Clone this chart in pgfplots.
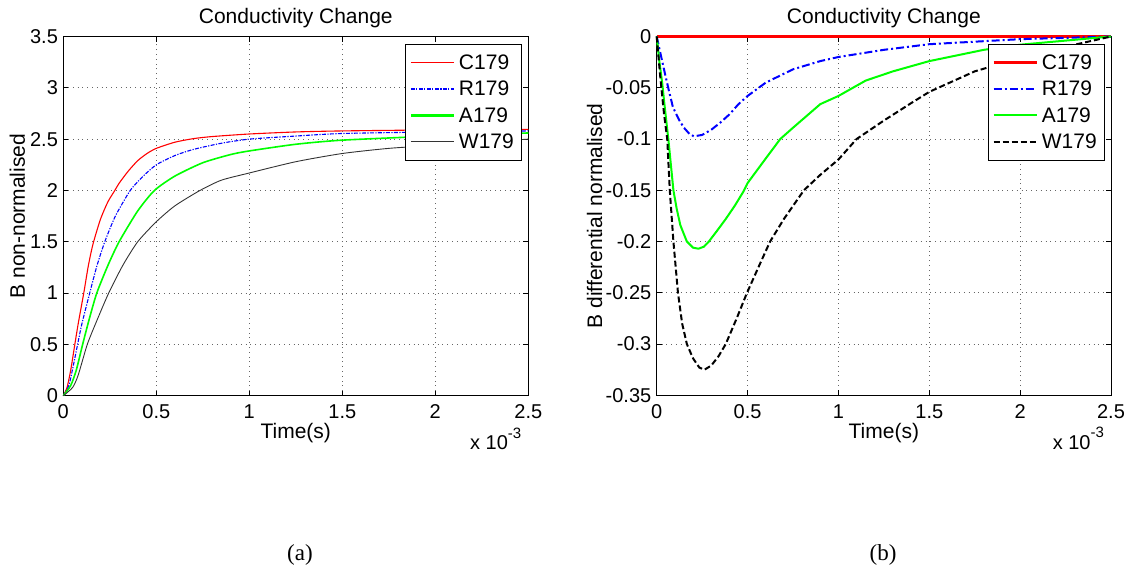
\documentclass[border=0pt]{standalone}
\usepackage{fontspec}
\setmainfont{Liberation Sans}
\newfontfamily\capfont{Liberation Serif}
\usepackage{pgfplots}
\pgfplotsset{compat=1.18}

\newcommand{\tickfont}{\fontsize{10}{12}\selectfont}
\newcommand{\legfont}{\fontsize{10.5}{12.5}\selectfont}
\newcommand{\labfont}{\fontsize{10.5}{12.5}\selectfont}

\pgfplotsset{
  matlab/.style={
    scale only axis,
    clip=false,
    xmin=0, xmax=2.5,
    xtick={0,0.5,1,1.5,2,2.5},
    xticklabels={0,0.5,1,1.5,2,2.5},
    tick align=inside,
    major tick length=2.5pt,
    grid=major,
    grid style={dotted, black!60, line width=0.4pt},
    axis line style={black, line width=0.5pt},
    tick style={black, line width=0.4pt},
    ticklabel style={font=\tickfont},
    xticklabel style={anchor=base, yshift=-11.5pt},
    yticklabel style={inner xsep=2.5pt},
    title style={font=\labfont, anchor=base, yshift=0.75pt},
    xlabel style={at={(axis description cs:0.5,0)}, anchor=base, yshift=-21.5pt, font=\labfont},
    ylabel style={anchor=center, font=\labfont},
    legend style={at={(0.987,0.979)}, anchor=north east, fill=white,
      font=\legfont, inner xsep=2pt, inner ysep=2.5pt, row sep=0pt,
      nodes={inner sep=2pt, text height=7.9pt, text depth=1.3pt}},
    legend cell align=left,
    legend image code/.code={\draw[##1] plot coordinates {(0pt,0pt) (10.75pt,0pt) (21.5pt,0pt)};},
  }
}

\begin{document}
\begin{tikzpicture}
\path[use as bounding box] (0,0) rectangle (568pt,287pt);

% (a) non-normalised
\begin{axis}[matlab,
  at={(31.65pt,89.15pt)}, anchor=south west,
  width=232.5pt, height=179.6pt,
  ymin=0, ymax=3.5,
  ytick={0,0.5,1,1.5,2,2.5,3,3.5},
  yticklabels={0,0.5,1,1.5,2,2.5,3,3.5},
  title={Conductivity Change},
  xlabel={Time(s)},
  ylabel={B non-normalised},
  ylabel style={at={(axis description cs:-0.0989,0.5)}},
]
\addplot[red, line width=0.55pt, smooth, tension=0.4] coordinates {
(0,0) (0.02,0.08) (0.04,0.25) (0.062,0.5) (0.08,0.7) (0.11,1.0) (0.135,1.27)
(0.16,1.48) (0.2,1.72) (0.24,1.89) (0.277,2.0) (0.3,2.07) (0.35,2.19) (0.4,2.29)
(0.45,2.36) (0.5,2.41) (0.6,2.47) (0.7,2.505) (0.8,2.525) (1.0,2.55) (1.25,2.57)
(1.5,2.58) (2.0,2.59) (2.5,2.595)};
\addlegendentry{C179}
\addplot[blue, line width=0.55pt, smooth, tension=0.4, dash pattern=on 2pt off 0.7pt on 0.6pt off 0.7pt,
  legend image post style={line width=0.7pt}] coordinates {
(0,0) (0.03,0.1) (0.05,0.26) (0.077,0.5) (0.1,0.7) (0.142,1.0) (0.18,1.26)
(0.223,1.5) (0.28,1.75) (0.36,2.0) (0.43,2.14) (0.5,2.25) (0.6,2.34) (0.7,2.4)
(0.85,2.46) (1.0,2.5) (1.25,2.53) (1.5,2.555) (2.0,2.57) (2.5,2.58)};
\addlegendentry{R179}
\addplot[green, line width=0.8pt, smooth, tension=0.4,
  legend image post style={line width=1.1pt}] coordinates {
(0,0) (0.04,0.1) (0.07,0.25) (0.104,0.5) (0.14,0.75) (0.18,1.0) (0.24,1.27)
(0.3,1.5) (0.4,1.8) (0.49,2.0) (0.6,2.14) (0.75,2.27) (0.9,2.35) (1.0,2.385)
(1.25,2.45) (1.5,2.49) (2.0,2.53) (2.5,2.56)};
\addlegendentry{A179}
\addplot[black!80, line width=0.45pt, smooth, tension=0.4] coordinates {
(0,0) (0.05,0.08) (0.08,0.2) (0.129,0.5) (0.18,0.73) (0.244,1.0) (0.32,1.27)
(0.4,1.5) (0.5,1.695) (0.6,1.85) (0.735,2.0) (0.85,2.1) (1.0,2.17) (1.25,2.28)
(1.5,2.36) (1.75,2.41) (2.0,2.44) (2.5,2.5)};
\addlegendentry{W179}
\node[anchor=base east, yshift=-27pt, font=\tickfont] at (rel axis cs:1,0)
  {x 10\raisebox{1.1ex}{\fontsize{7.5}{9}\selectfont -3}};
\end{axis}

% (b) differential normalised
\begin{axis}[matlab,
  at={(328.35pt,89.35pt)}, anchor=south west,
  width=227.15pt, height=179.4pt,
  ymin=-0.35, ymax=0,
  ytick={-0.35,-0.3,-0.25,-0.2,-0.15,-0.1,-0.05,0},
  yticklabels={-0.35,-0.3,-0.25,-0.2,-0.15,-0.1,-0.05,0},
  title={Conductivity Change},
  xlabel={Time(s)},
  ylabel={B differential normalised},
  ylabel style={at={(axis description cs:-0.1366,0.5)}},
]
\addplot[red, line width=1.2pt] coordinates {(0,0) (2.5,0)};
\addlegendentry{C179}
\addplot[blue, line width=1pt, dash pattern=on 4pt off 1.5pt on 1pt off 1.5pt] coordinates {
(0,0) (0.025,-0.02) (0.049,-0.039) (0.07,-0.055) (0.088,-0.068) (0.1,-0.073)
(0.125,-0.082) (0.15,-0.089) (0.18,-0.095) (0.205,-0.0974) (0.25,-0.096)
(0.3,-0.091) (0.35,-0.084) (0.4,-0.076) (0.45,-0.066) (0.5,-0.058) (0.6,-0.045)
(0.75,-0.032) (0.9,-0.024) (1.0,-0.02) (1.25,-0.013) (1.5,-0.0075) (2.0,-0.0026)
(2.5,0)};
\addlegendentry{R179}
\addplot[green, line width=1pt] coordinates {
(0,0) (0.015,-0.025) (0.03,-0.045) (0.045,-0.07) (0.064,-0.1) (0.078,-0.125)
(0.092,-0.15) (0.11,-0.168) (0.13,-0.184) (0.166,-0.2) (0.2,-0.206) (0.23,-0.207)
(0.26,-0.205) (0.287,-0.2) (0.33,-0.19) (0.38,-0.178) (0.43,-0.165) (0.478,-0.151)
(0.5,-0.143) (0.55,-0.131) (0.6,-0.119) (0.68,-0.1) (0.75,-0.089) (0.9,-0.066)
(1.0,-0.058) (1.15,-0.043) (1.3,-0.034) (1.5,-0.024) (1.8,-0.013) (2.0,-0.008)
(2.25,-0.004) (2.5,0)};
\addlegendentry{A179}
\addplot[black, line width=1pt, dash pattern=on 3pt off 1.5pt] coordinates {
(0,0) (0.02,-0.04) (0.04,-0.075) (0.058,-0.1) (0.072,-0.15) (0.092,-0.2)
(0.117,-0.25) (0.14,-0.28) (0.166,-0.3) (0.2,-0.314) (0.235,-0.323) (0.263,-0.325)
(0.3,-0.321) (0.34,-0.312) (0.38,-0.3) (0.44,-0.275) (0.497,-0.25) (0.56,-0.225)
(0.624,-0.2) (0.7,-0.178) (0.81,-0.15) (0.9,-0.135) (1.0,-0.12) (1.1,-0.1)
(1.25,-0.082) (1.4,-0.065) (1.5,-0.054) (1.75,-0.034) (2.0,-0.021) (2.25,-0.01)
(2.5,0)};
\addlegendentry{W179}
\node[anchor=base east, yshift=-27pt, font=\tickfont] at (rel axis cs:1,0)
  {x 10\raisebox{1.1ex}{\fontsize{7.5}{9}\selectfont -3}};
\end{axis}

\node[anchor=base, font=\capfont\fontsize{11.5}{13}\selectfont] at (150pt,7pt) {(a)};
\node[anchor=base, font=\capfont\fontsize{11.5}{13}\selectfont] at (441.5pt,7pt) {(b)};
\end{tikzpicture}
\end{document}
